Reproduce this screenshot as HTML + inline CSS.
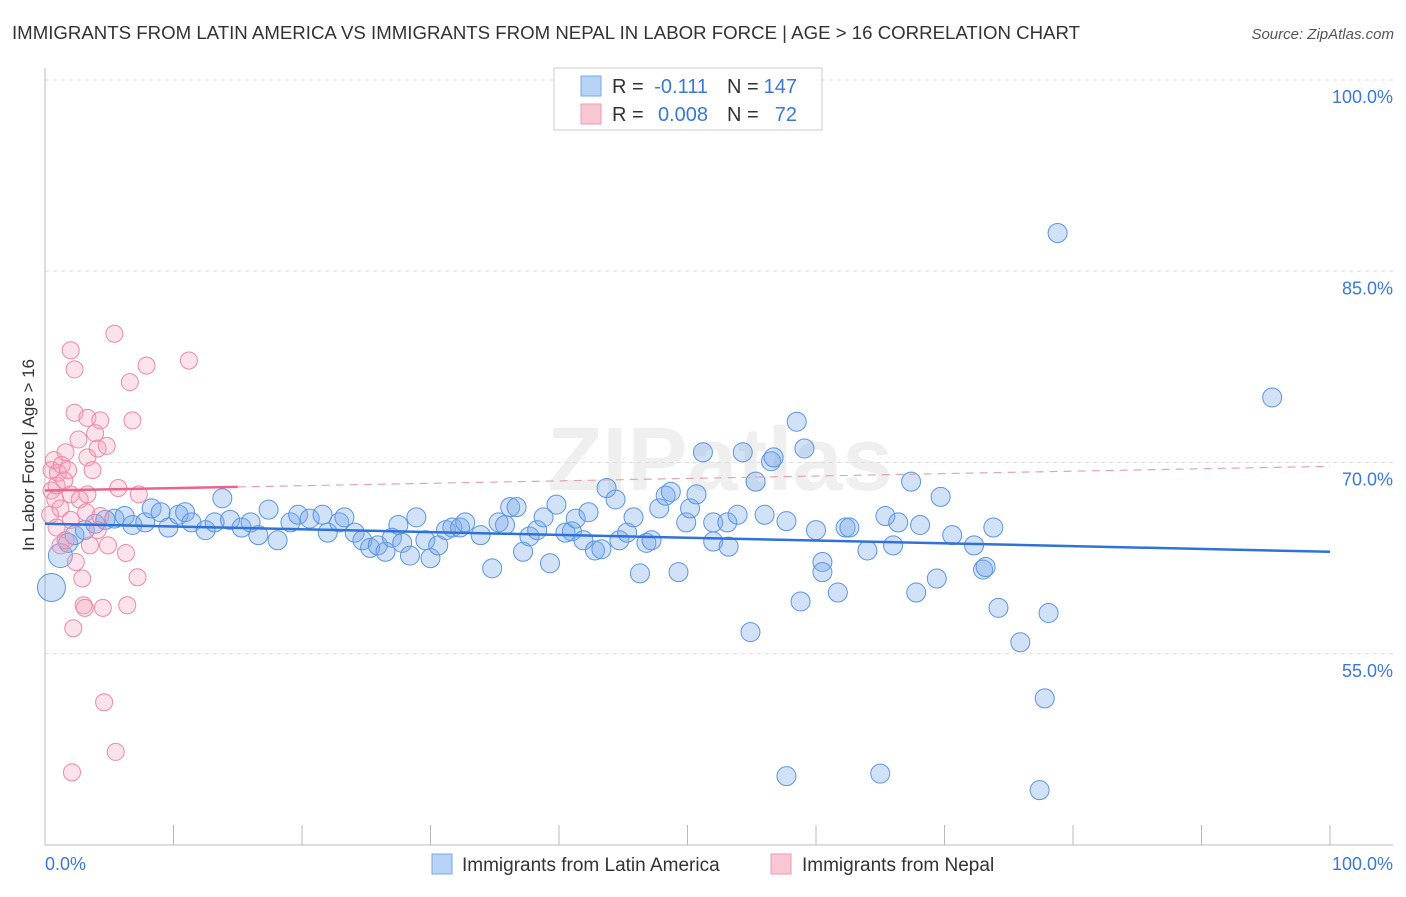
<!DOCTYPE html>
<html><head><meta charset="utf-8"><style>
body{margin:0;background:#fff;font-family:"Liberation Sans",sans-serif;}
svg text{font-family:"Liberation Sans",sans-serif;}
</style></head><body>
<svg width="1406" height="892" viewBox="0 0 1406 892">
<text x="12" y="39" font-size="18.5" fill="#333" textLength="1068" lengthAdjust="spacingAndGlyphs">IMMIGRANTS FROM LATIN AMERICA VS IMMIGRANTS FROM NEPAL IN LABOR FORCE | AGE &gt; 16 CORRELATION CHART</text>
<text x="1394" y="39" font-size="15" fill="#555" font-style="italic" text-anchor="end">Source: ZipAtlas.com</text>
<text x="720" y="490" font-size="90" fill="#e6e6e6" text-anchor="middle" font-weight="bold" opacity="0.6">ZIPatlas</text>
<g id="grid"></g>
<g id="axes"></g>
<g id="pts"></g>
<g id="trend"></g>
<text transform="translate(34,455) rotate(-90)" font-size="17" fill="#333" text-anchor="middle">In Labor Force | Age &gt; 16</text>
<text x="45" y="870" font-size="18" fill="#3b78d8">0.0%</text>
<text x="1393" y="870" font-size="18" fill="#3b78d8" text-anchor="end">100.0%</text>
<g>
<rect x="554" y="68" width="268" height="62" fill="#fff" stroke="#ccc"/>
<rect x="581" y="76" width="20" height="20" fill="#b8d3f5" stroke="#7aa7e6"/>
<rect x="581" y="104" width="20" height="20" fill="#f9c6d4" stroke="#ef9ab3"/>
<text x="612" y="93" font-size="20" fill="#333">R =</text>
<text x="708" y="93" font-size="20" fill="#3b78d8" text-anchor="end">-0.111</text>
<text x="727" y="93" font-size="20" fill="#333">N =</text>
<text x="797" y="93" font-size="20" fill="#3b78d8" text-anchor="end">147</text>
<text x="612" y="121" font-size="20" fill="#333">R =</text>
<text x="708" y="121" font-size="20" fill="#3b78d8" text-anchor="end">0.008</text>
<text x="727" y="121" font-size="20" fill="#333">N =</text>
<text x="797" y="121" font-size="20" fill="#3b78d8" text-anchor="end">72</text>
</g>
<g>
<rect x="432" y="854" width="20" height="20" fill="#b8d3f5" stroke="#7aa7e6"/>
<text x="462" y="871" font-size="19" fill="#333">Immigrants from Latin America</text>
<rect x="771" y="854" width="20" height="20" fill="#f9c6d4" stroke="#ef9ab3"/>
<text x="802" y="871" font-size="19" fill="#333">Immigrants from Nepal</text>
</g>
</svg>
<script>
const yTicks=[100,85,70,55];
const yTickLabels=["100.0%","85.0%","70.0%","55.0%"];
const xTicks=[0,10,20,30,40,50,60,70,80,90,100];
const blueX=[0.5,1.2,1.8,2.3,3.1,3.9,4.7,5.4,6.2,6.8,7.8,8.3,9.0,9.6,10.4,10.9,11.4,12.5,13.2,13.8,14.4,15.3,16.0,16.6,17.4,18.1,19.1,19.7,20.6,21.6,22.0,22.9,23.3,24.1,24.7,25.3,25.9,26.5,27.0,27.5,27.8,28.4,28.9,29.6,30.0,30.6,31.2,31.7,32.3,32.7,33.9,34.8,35.3,35.8,36.2,36.7,37.2,37.7,38.3,38.8,39.3,39.8,40.5,41.0,41.3,41.9,42.3,42.8,43.3,43.7,44.4,44.7,45.3,45.8,46.3,46.8,47.2,47.8,48.3,48.7,49.3,49.9,50.2,50.7,51.2,52.0,52.0,53.1,53.2,53.9,54.3,54.9,55.3,56.0,56.5,56.7,57.7,58.5,58.8,59.1,57.7,60.0,60.5,60.5,61.7,62.3,62.6,64.0,65.0,65.4,66.0,66.4,67.4,67.8,68.1,69.4,69.7,70.6,72.3,73.0,73.2,73.8,74.2,75.9,77.4,77.8,78.1,78.8,95.5];
const blueY=[60.2,62.7,63.7,64.3,64.7,65.2,65.5,65.6,65.8,65.1,65.3,66.4,66.1,64.9,65.9,66.1,65.3,64.7,65.3,67.2,65.5,64.9,65.3,64.3,66.3,63.9,65.3,65.9,65.6,65.9,64.5,65.3,65.7,64.5,63.9,63.3,63.5,63.0,64.1,65.1,63.7,62.7,65.7,63.9,62.5,63.5,64.7,64.9,64.9,65.3,64.3,61.7,65.3,65.1,66.5,66.5,63.0,64.2,64.7,65.7,62.1,66.7,64.5,64.6,65.6,63.9,66.1,63.1,63.2,68.0,67.1,63.9,64.5,65.7,61.3,63.7,63.9,66.4,67.4,67.7,61.4,65.3,66.4,67.5,70.8,65.3,63.8,65.3,63.4,65.9,70.8,56.7,68.5,65.9,70.1,70.4,65.4,73.2,59.1,71.1,45.4,64.7,62.2,61.4,59.8,64.9,64.9,63.1,45.6,65.8,63.5,65.3,68.5,59.8,65.1,60.9,67.3,64.3,63.5,61.6,61.8,64.9,58.6,55.9,44.3,51.5,58.2,88.0,75.1];
const pinkX=[0.4,0.5,0.5,0.7,0.8,0.9,1.0,1.2,1.3,1.5,1.6,1.8,2.0,2.0,2.2,2.1,2.3,2.3,2.4,2.6,2.7,2.9,3.0,3.1,3.2,3.3,3.3,3.3,3.7,3.9,4.1,4.3,4.3,4.5,4.6,4.8,4.9,5.4,5.5,5.7,6.3,6.4,6.6,6.8,7.2,7.3,7.9,11.2,0.9,1.2,1.6,4.1,2.0,3.5];
const pinkY=[65.9,67.8,69.4,70.2,67.1,68.2,69.2,66.4,69.8,68.6,70.8,69.4,67.5,78.8,57.0,45.7,77.3,73.9,62.2,71.8,67.1,60.9,58.8,58.6,66.1,67.5,73.5,70.4,69.4,72.3,71.1,73.3,65.8,58.6,51.2,71.3,63.5,80.1,47.3,68.0,62.9,58.8,76.3,73.3,61.0,67.5,77.6,78.0,64.9,63.5,63.9,64.7,65.5,63.5];
const blueTrend=[65.2,63.0];
const pinkTrend=[67.8,69.7];
const NS="http://www.w3.org/2000/svg";
const X=v=>45+v*12.85, Y=v=>80+(100-v)*12.75;
function mk(t,a,p){const e=document.createElementNS(NS,t);for(const k in a)e.setAttribute(k,a[k]);p.appendChild(e);return e;}
const grid=document.getElementById('grid'),axes=document.getElementById('axes'),pts=document.getElementById('pts'),tr=document.getElementById('trend');
yTicks.forEach((v,i)=>{
 const l=mk('line',{x1:45,x2:1393,y1:Y(v),y2:Y(v),stroke:'#ddd','stroke-dasharray':'4,4'},grid);
 
 
 const t=mk('text',{x:1393,y:Y(v)+23,'font-size':18,fill:'#3b78d8','text-anchor':'end'},grid);
 t.textContent=yTickLabels[i];
 
 
});
const ax=mk('line',{x1:45,x2:45,y1:68,y2:845,stroke:'#bbb'},axes);


const bx=mk('line',{x1:45,x2:1393,y1:845,y2:845,stroke:'#bbb'},axes);


xTicks.forEach(v=>{const t=mk('line',{x1:X(v),x2:X(v),y1:825,y2:845,stroke:'#bbb'},axes);
 
 });
blueX.forEach((v,i)=>{const r=i<2?(i==0?14:12):9.5;const c=mk('circle',{cx:X(v),cy:Y(blueY[i]),r:r,fill:'rgba(120,170,235,0.35)',stroke:'#5b95e0','stroke-width':1},pts);
 
 });
pinkX.forEach((v,i)=>{const c=mk('circle',{cx:X(v),cy:Y(pinkY[i]),r:8.5,fill:'rgba(245,160,185,0.3)',stroke:'#ec8aa8','stroke-width':1},pts);
 
 });
const bl=mk('line',{x1:X(0),x2:X(100),y1:Y(blueTrend[0]),y2:Y(blueTrend[1]),stroke:'#2f72d8','stroke-width':2.5},tr);


const pv=x=>pinkTrend[0]+(pinkTrend[1]-pinkTrend[0])*x/100;
const ps=mk('line',{x1:X(0),x2:X(15),y1:Y(pv(0)),y2:Y(pv(15)),stroke:'#e8648c','stroke-width':2.5},tr);


const pd=mk('line',{x1:X(15),x2:X(100),y1:Y(pv(15)),y2:Y(pv(100)),stroke:'#e8a0b6','stroke-width':1.2,'stroke-dasharray':'8,6'},tr);


</script>
</body></html>
